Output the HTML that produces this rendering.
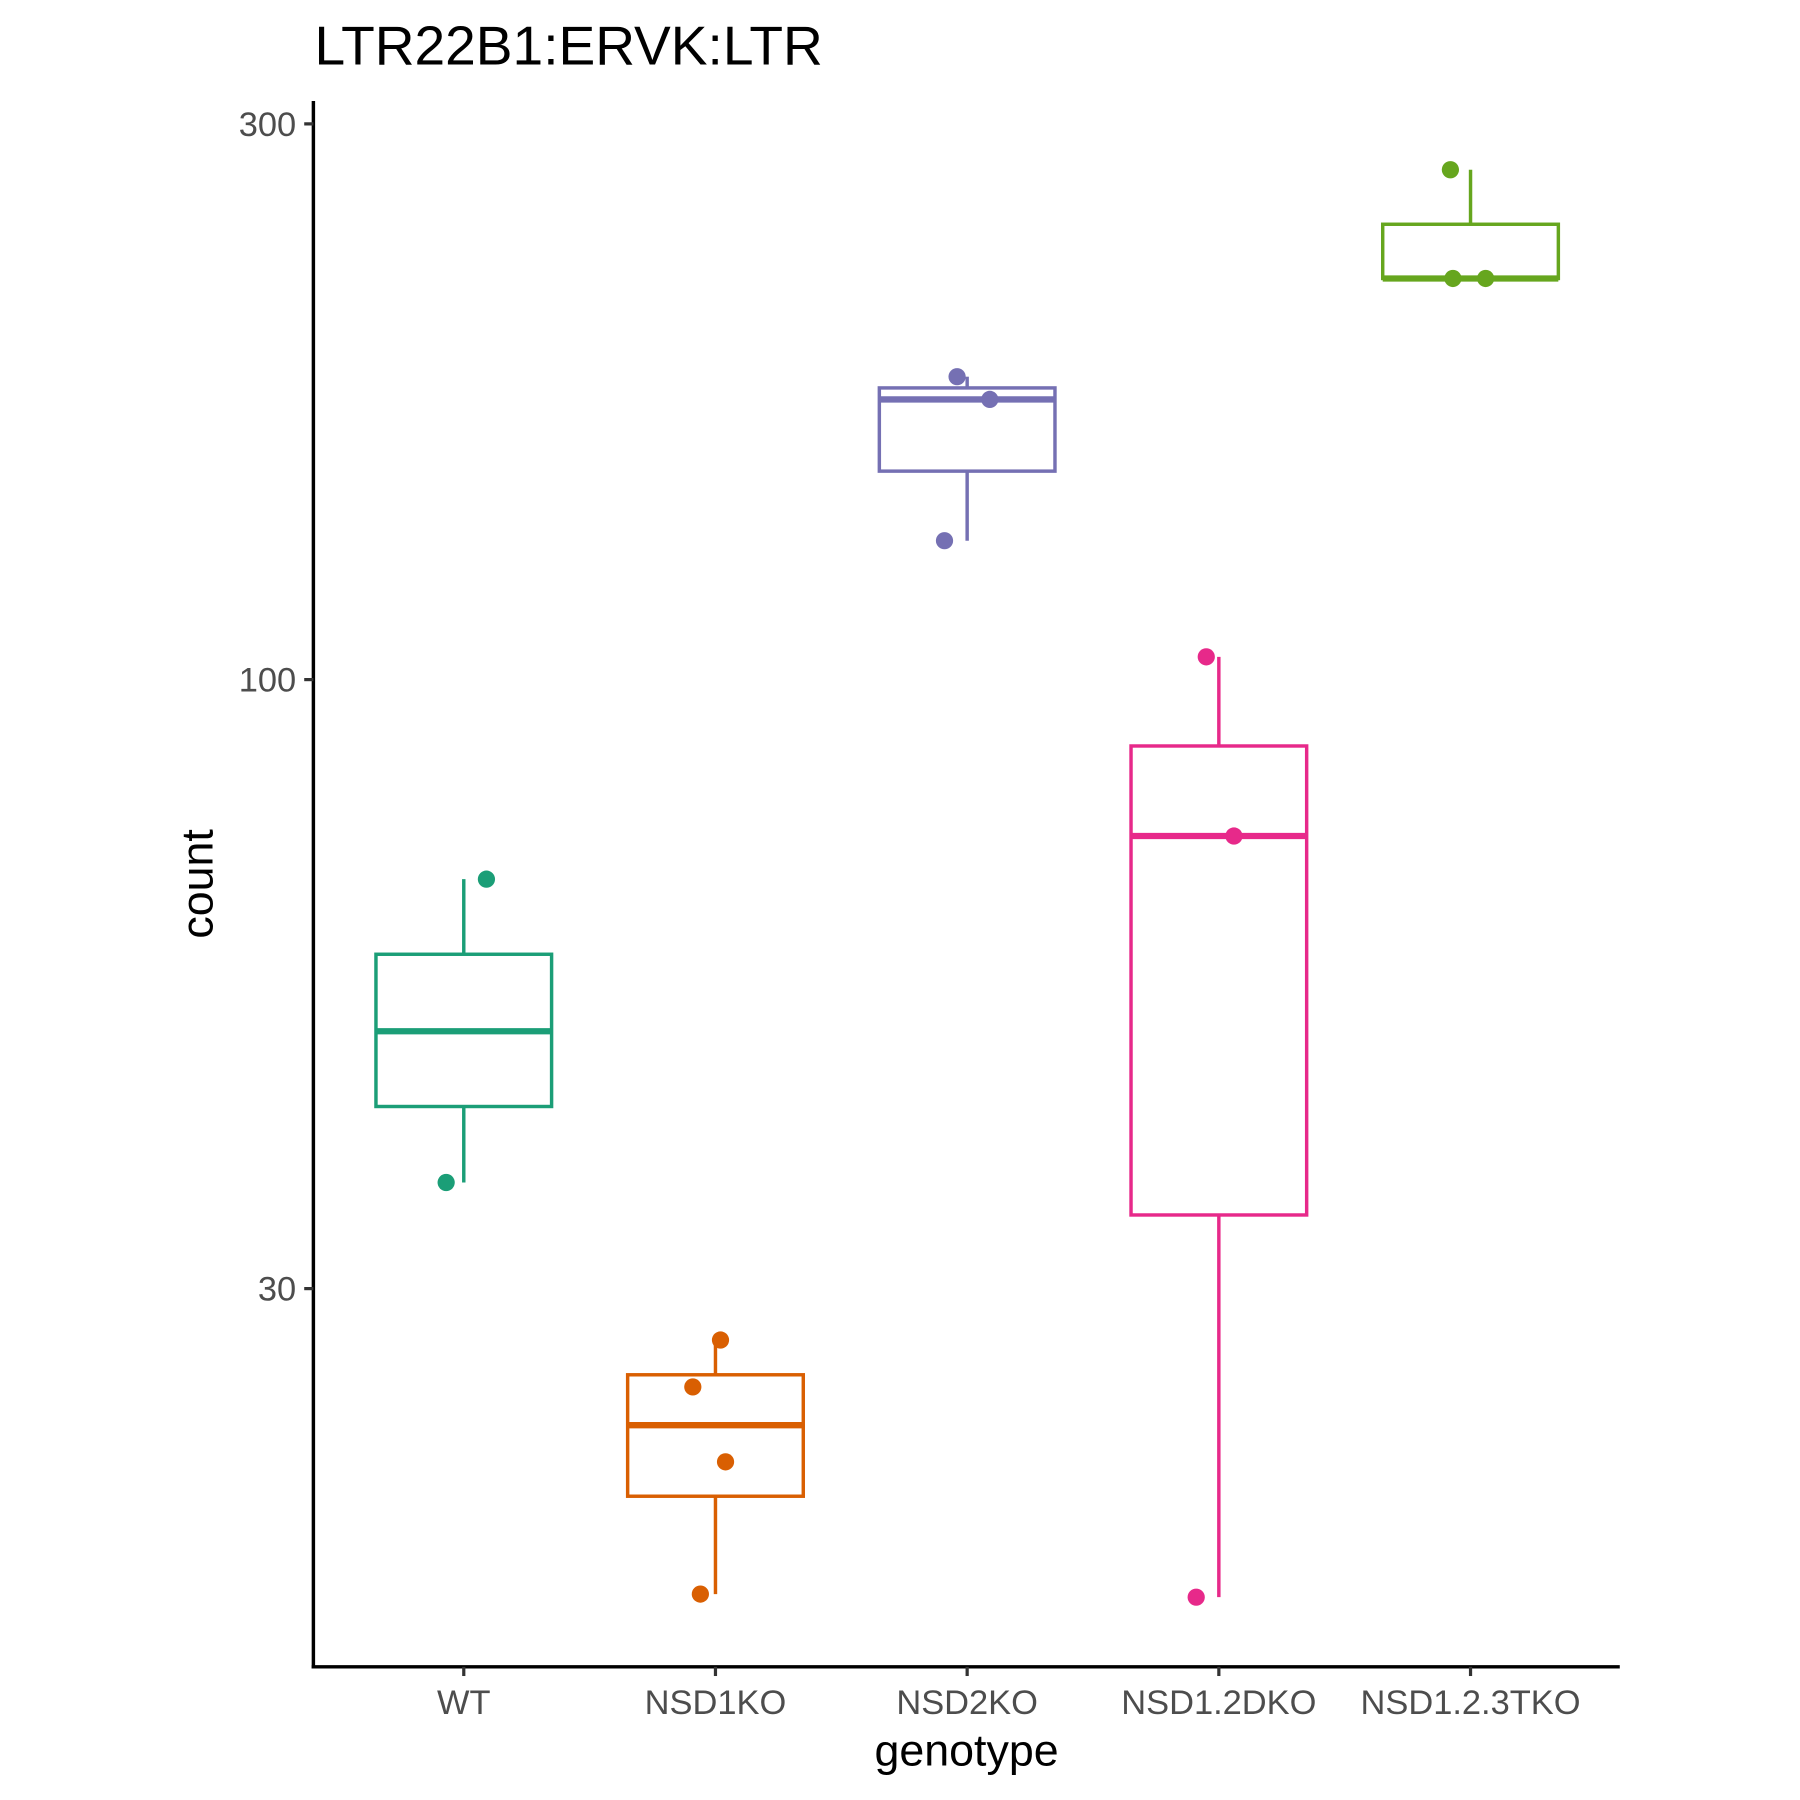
<!DOCTYPE html>
<html><head><meta charset="utf-8"><style>html,body{margin:0;padding:0;background:#fff}svg{display:block}text{font-family:"Liberation Sans",Arial,sans-serif}</style></head>
<body>
<svg id="chart" width="1800" height="1800" viewBox="0 0 1568 1568" xmlns="http://www.w3.org/2000/svg">
<text x="274" y="56" font-size="48" fill="#000">LTR22B1:ERVK:LTR</text>
<g id="plot"></g>
</svg>
<script>
const categories = ["WT","NSD1KO","NSD2KO","NSD1.2DKO","NSD1.2.3TKO"];
const colors = ["#1B9E77","#D95F02","#7570B3","#E7298A","#66A61E"];
const q1 = [43.0,19.9,151,34.7,221];
const medians = [49.9,22.9,174,73.4,221];
const q3 = [58.1,25.3,178,87.7,246];
const whiskLow = [37.0,16.4,131.6,16.3,221];
const whiskHigh = [67.4,27.1,182,104.6,274];
const pointGroup = [0,0,1,1,1,1,2,2,2,3,3,3,4,4,4];
const pointValues = [67.4,37.0,27.1,24.7,21.3,16.4,182,174,131.6,104.6,73.4,16.3,274,221,221];
const pointJitter = [0.09,-0.07,0.02,-0.09,0.04,-0.06,-0.04,0.09,-0.09,-0.05,0.06,-0.09,-0.08,-0.07,0.06];
const yTicks = [30,100,300];

const NS="http://www.w3.org/2000/svg";
const g=document.getElementById('plot');
const X=i=>404+i*219.25;
const Y=v=>592-(Math.log10(v)-2)*1014.6;
const bw=153;
function el(t,a){const e=document.createElementNS(NS,t);for(const k in a)e.setAttribute(k,a[k]);g.appendChild(e);return e;}
let ax=el('line',{x1:273,y1:88,x2:273,y2:1453.5,stroke:'#000','stroke-width':3});


ax=el('line',{x1:271.5,y1:1452,x2:1411,y2:1452,stroke:'#000','stroke-width':3});


yTicks.forEach(t=>{
  const tk=el('line',{x1:265,y1:Y(t),x2:273,y2:Y(t),stroke:'#333','stroke-width':2.8});
  
  
  const tx=el('text',{x:258,y:Y(t)+10.5,'text-anchor':'end','font-size':30,fill:'#4d4d4d'});
  tx.textContent=t;
  
  
});
categories.forEach((c,i)=>{
  const tk=el('line',{x1:X(i),y1:1452,x2:X(i),y2:1460,stroke:'#333','stroke-width':2.8});
  
  
  const tx=el('text',{x:X(i),y:1493,'text-anchor':'middle','font-size':30,fill:'#4d4d4d'});
  tx.textContent=c;
  
  
  const col=colors[i];
  const w1=el('line',{x1:X(i),y1:Y(q3[i]),x2:X(i),y2:Y(whiskHigh[i]),stroke:col,'stroke-width':3});
  
  
  const w2=el('line',{x1:X(i),y1:Y(q1[i]),x2:X(i),y2:Y(whiskLow[i]),stroke:col,'stroke-width':3});
  
  
  const b=el('rect',{x:X(i)-bw/2,y:Y(q3[i]),width:bw,height:Y(q1[i])-Y(q3[i]),fill:'#fff',stroke:col,'stroke-width':3});
  
  
  const m=el('line',{x1:X(i)-bw/2,y1:Y(medians[i]),x2:X(i)+bw/2,y2:Y(medians[i]),stroke:col,'stroke-width':5.5});
  
  
});
pointValues.forEach((v,k)=>{
  const i=pointGroup[k];
  const p=el('circle',{cx:X(i+pointJitter[k]),cy:Y(v),r:7.5,fill:colors[i]});
  
  
});
let t=el('text',{x:842,y:1538,'text-anchor':'middle','font-size':39,fill:'#000'});
t.textContent='genotype';


t=el('text',{x:0,y:0,'text-anchor':'middle','font-size':39,fill:'#000',transform:'translate(185,770) rotate(-90)'});
t.textContent='count';


</script>
</body></html>
